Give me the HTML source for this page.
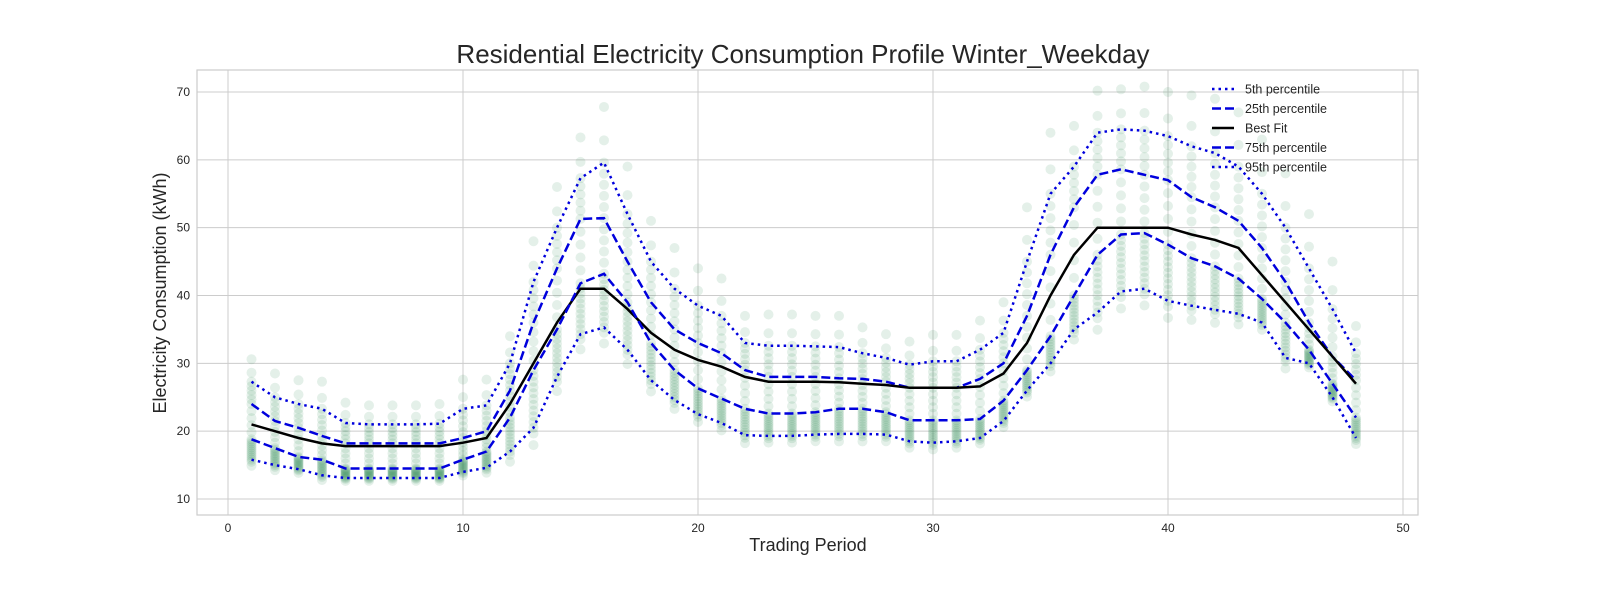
<!DOCTYPE html>
<html><head><meta charset="utf-8"><style>
body{margin:0;background:#fff;}
svg text{font-family:"Liberation Sans",sans-serif;fill:#262626;}
</style></head><body>
<svg id="c" width="1600" height="600">
<rect x="0" y="0" width="1600" height="600" fill="#fff"/>
<text x="803" y="63" font-size="26" text-anchor="middle">Residential Electricity Consumption Profile Winter_Weekday</text>
<text x="808" y="551" font-size="18" text-anchor="middle">Trading Period</text>
<text transform="translate(166,293) rotate(-90)" font-size="18" text-anchor="middle">Electricity Consumption (kWh)</text>
<g id="grid"></g><g id="pts"></g><g id="lines"></g>
<rect x="197" y="70" width="1221" height="445" fill="none" stroke="#ccc" stroke-width="1.2"/>
<g id="legend"></g>
</svg>
<script>
const periods=[];for(let i=1;i<=48;i++)periods.push(i);
const xTicks=[0,10,20,30,40,50];
const yTicks=[10,20,30,40,50,60,70];
const bestFit=[21,20,19,18.2,17.8,17.8,17.8,17.8,17.8,18.3,19,24,30,36,41,41,38,34.5,32,30.5,29.5,28,27.3,27.3,27.3,27.2,27,26.8,26.4,26.4,26.4,26.6,28.5,33,40,46,50,50,50,50,49,48.2,47,43,39,35,31,27];
const p75=[24,21.5,20.5,19.3,18.2,18.2,18.2,18.2,18.2,19,20,26,36,44,51.3,51.4,45,39,35,33,31.5,29,28,28,28,27.8,27.7,27.3,26.4,26.4,26.4,27.7,30,37,46,53,57.8,58.6,57.8,57,54.5,53,51,47,42,36,31,27.5];
const p25=[18.8,17.5,16.2,15.8,14.5,14.5,14.5,14.5,14.5,15.8,17,22,29,35,41.8,43.2,39,33,29,26.3,24.8,23.3,22.6,22.6,22.8,23.3,23.3,22.8,21.6,21.6,21.6,21.8,24.5,29,34,40,46,49,49.2,47.5,45.5,44.3,42.5,39.5,36,32,27,22];
const p95=[27.3,25,24,23.3,21.2,21,21,21,21.1,23.3,23.8,30,42,50,57.3,59.6,52,45,41,38.5,37,33,32.6,32.6,32.5,32.4,31.5,30.8,29.8,30.3,30.3,32,34.5,45,55,59,64,64.5,64.3,63.5,62,61,59,55,50,44,38,31.5];
const p5=[15.8,15,14.4,13.5,13.1,13.1,13.1,13.1,13.1,14,14.6,17,20.5,28,34.3,35.3,32,27.5,24.6,22.5,21.2,19.4,19.3,19.3,19.5,19.6,19.6,19.5,18.5,18.3,18.5,19,21.5,26,30,35,37.5,40.6,41,39.2,38.5,37.9,37.3,36,30.8,30,25,19];
const NS='http://www.w3.org/2000/svg';
const X=v=>228+v*23.5, Y=v=>499-(v-10)*6.783;
function mk(t,a,p){const e=document.createElementNS(NS,t);for(const k in a)e.setAttribute(k,a[k]);p.appendChild(e);return e;}
const grid=document.getElementById('grid');
xTicks.forEach(t=>{
 const l=mk('line',{x1:X(t),x2:X(t),y1:70,y2:515,stroke:'#ccc','stroke-width':1},grid);
 
 
 const tx=mk('text',{x:X(t),y:532,'font-size':12,'text-anchor':'middle'},grid);tx.textContent=t;
 
 
});
yTicks.forEach(t=>{
 const l=mk('line',{x1:197,x2:1418,y1:Y(t),y2:Y(t),stroke:'#ccc','stroke-width':1},grid);
 
 
 const tx=mk('text',{x:190,y:Y(t)+4,'font-size':12,'text-anchor':'end'},grid);tx.textContent=t;
 
 
});
const pts=document.getElementById('pts');
const qs=[-0.15,-0.05,0,0.05,0.1,0.15,0.2,0.25,0.3,0.35,0.4,0.45,0.5,0.55,0.6,0.65,0.7,0.75,0.8,0.85,0.9,0.95,1,1.1,1.25];
periods.forEach((p,i)=>{
 qs.forEach(q=>{
  let v;
  if(q<0) v=p5[i]+(p25[i]-p5[i])*q*2;
  else if(q<0.5) v=p5[i]+(p25[i]-p5[i])*(q/0.5);
  else if(q<=0.75) v=p25[i]+(p75[i]-p25[i])*((q-0.5)/0.25);
  else v=p75[i]+(p95[i]-p75[i])*((q-0.75)/0.25);
  const c=mk('circle',{cx:X(p),cy:Y(v),r:5,fill:'rgba(46,139,87,0.13)'},pts);
  
  
 });
});
const lines=document.getElementById('lines');
function line(arr,dash,col,name){
 const d=arr.map((v,i)=>(i?'L':'M')+X(periods[i]).toFixed(1)+','+Y(v).toFixed(1)).join('');
 const p=mk('path',{d:d,fill:'none',stroke:col,'stroke-width':2.5,'stroke-dasharray':dash},lines);
 
 
}
line(p95,'2.5,4','#0000dd','line-upper-dotted');
line(p75,'9,4','#0000dd','line-upper-dashed');
line(bestFit,'none','#000','line-best-fit');
line(p25,'9,4','#0000dd','line-lower-dashed');
line(p5,'2.5,4','#0000dd','line-lower-dotted');
const lg=document.getElementById('legend');
const items=[['5th percentile','2.5,4','#0000dd'],['25th percentile','9,4','#0000dd'],['Best Fit','none','#000'],['75th percentile','9,4','#0000dd'],['95th percentile','2.5,4','#0000dd']];
items.forEach((it,k)=>{
 const y=89+k*19.5;
 const l=mk('line',{x1:1212,x2:1234,y1:y,y2:y,stroke:it[2],'stroke-width':2.5,'stroke-dasharray':it[1]},lg);
 
 
 const t=mk('text',{x:1245,y:y+4.5,'font-size':12.5},lg);t.textContent=it[0];
 
 
});
</script>
</body></html>
